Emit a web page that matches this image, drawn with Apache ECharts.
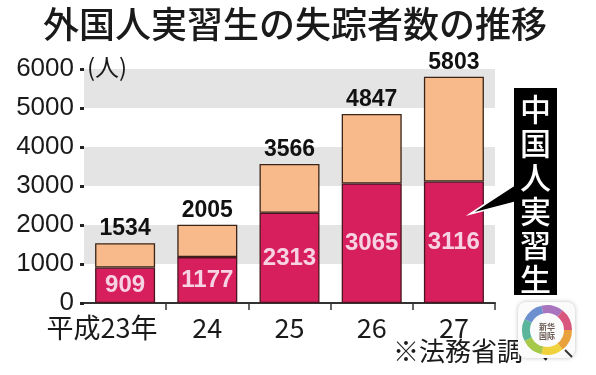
<!DOCTYPE html>
<html><head><meta charset="utf-8">
<script src="https://cdn.jsdelivr.net/npm/echarts@6/dist/echarts.min.js"></script>
<style>html,body{margin:0;padding:0;background:#fff}#c{width:596px;height:375px}</style>
</head><body><div id="c"></div>
<script>
const categories = ['平成23年', '24', '25', '26', '27'];
const chinese = [909, 1177, 2313, 3065, 3116];
const others = [625, 828, 1253, 1782, 2687];
const totals = [1534, 2005, 3566, 4847, 5803];
const yTicks = [0, 1000, 2000, 3000, 4000, 5000, 6000];

const chart = echarts.init(document.getElementById('c'), null, {renderer: 'canvas'});
const numFont = 'Liberation Sans, Arial, sans-serif';
const cjk = 'Noto Sans CJK JP, sans-serif';

const xData = categories.map((c, i) => i === 0
  ? {value: c, textStyle: {padding: [0, 46, 0, 0]}}
  : c);

const ringColors = ['#e9a23b', '#f0d23c', '#a6c94a', '#5bb59a', '#6b8fcf', '#a774bd', '#d9577f'];
const ring = ringColors.map((col, i) => ({
  type: 'sector',
  shape: {cx: 547, cy: 330, r0: 17, r: 25,
    startAngle: (i / ringColors.length) * Math.PI * 2,
    endAngle: ((i + 1) / ringColors.length) * Math.PI * 2},
  style: {fill: col},
  z: 12
}));

chart.setOption({
  animation: false,
  backgroundColor: '#fff',
  title: {
    text: '外国人実習生の失踪者数の推移',
    left: 38, top: 1,
    textStyle: {fontFamily: cjk, fontSize: 36, fontWeight: 500, color: '#1a1a1a'}
  },
  grid: {left: 84, right: 101, top: 69, bottom: 72},
  xAxis: {
    type: 'category',
    data: xData,
    axisLine: {lineStyle: {color: '#333', width: 2}},
    axisTick: {show: true, length: 7, lineStyle: {color: '#333', width: 1.5},
      interval: function (i) { return i !== 0; }},
    axisLabel: {fontFamily: cjk, fontSize: 27, color: '#1a1a1a', margin: 11, interval: 0}
  },
  yAxis: {
    type: 'value', min: 0, max: 6000, interval: 1000,
    axisLine: {show: false},
    axisTick: {show: true, length: 4, inside: false, lineStyle: {color: '#222', width: 3}},
    axisLabel: {fontFamily: numFont, fontSize: 26, color: '#1a1a1a', margin: 10,
      formatter: v => yTicks.indexOf(v) >= 0 ? String(v) : ''},
    splitLine: {show: false},
    splitArea: {show: true, areaStyle: {color: ['#ffffff', '#e4e4e4']}}
  },
  series: [
    {
      name: '中国人実習生', type: 'bar', stack: 's', barWidth: 60,
      data: chinese,
      itemStyle: {color: '#d81f5d', borderColor: '#4a1420', borderWidth: 1.3},
      label: {show: true, position: 'inside', color: '#f7d2e2',
        fontFamily: numFont, fontSize: 24, fontWeight: 'bold'}
    },
    {
      name: 'その他', type: 'bar', stack: 's', barWidth: 60,
      data: others,
      itemStyle: {color: '#f8b98b', borderColor: '#3a2418', borderWidth: 1.3},
      label: {show: true, position: 'top', distance: 3, color: '#111',
        fontFamily: numFont, fontSize: 23, fontWeight: 'bold',
        formatter: p => String(totals[p.dataIndex])}
    }
  ],
  graphic: [
    {type: 'text', left: 87, top: 55, z: 20,
      style: {text: '(人)', font: '24px ' + cjk, fill: '#1a1a1a'}},
    {type: 'polygon', shape: {points: [[470, 214], [516, 184], [516, 202]]},
      style: {fill: '#000', stroke: '#fff', lineWidth: 1.5}, z: 10},
    {type: 'rect', shape: {x: 514, y: 88, width: 43, height: 207},
      style: {fill: '#000'}, z: 11},
    {type: 'text', z: 12,
      style: {text: '中\n国\n人\n実\n習\n生', x: 535.5, y: 92, align: 'center',
        font: '500 31px ' + cjk, lineHeight: 34, fill: '#fff'}},
    {type: 'text', z: 5, left: 393, top: 338,
      style: {text: '※法務省調べ', font: '26px ' + cjk, fill: '#1a1a1a'}},
    {type: 'rect', shape: {x: 518, y: 302, width: 57, height: 56, r: 8},
      style: {fill: '#fbfbfb', shadowBlur: 4, shadowColor: 'rgba(0,0,0,0.25)'}, z: 11},
    ...ring,
    {type: 'text', z: 13,
      style: {text: '新华\n国际', x: 547, y: 322, align: 'center',
        font: 'bold 8px ' + cjk, lineHeight: 9, fill: '#6a5a50'}},
    {type: 'line', z: 13, shape: {x1: 565, y1: 350, x2: 572, y2: 357},
      style: {stroke: '#333', lineWidth: 2}}
  ]
});
</script></body></html>
